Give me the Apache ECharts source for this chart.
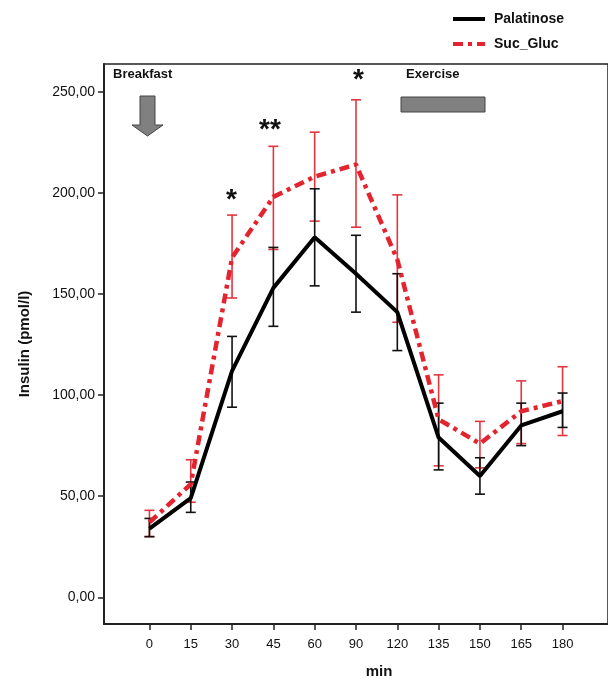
<!DOCTYPE html>
<html>
<head>
<meta charset="utf-8">
<script src="https://cdn.jsdelivr.net/npm/echarts@6/dist/echarts.min.js"></script>
<style>
html, body { margin: 0; padding: 0; background: #fff; }
#main { width: 608px; height: 684px; }
</style>
</head>
<body>
<div id="main"></div>
<script>
// time points (min), drawn at equal spacing
var times = ['0', '15', '30', '45', '60', '90', '120', '135', '150', '165', '180'];

// Palatinose: mean and error bar ends
var palatinose = [34, 49, 112, 153, 178, 160, 141, 79, 60, 85, 92];
var palLow = [30, 42, 94, 134, 154, 141, 122, 63, 51, 75, 84];
var palHigh = [39, 57, 129, 173, 202, 179, 160, 96, 69, 96, 101];

// Suc_Gluc: mean and error bar ends
var sucGluc = [37, 56, 168, 198, 208, 214, 167, 88, 76, 92, 97];
var sucLow = [30, 47, 148, 172, 186, 183, 136, 65, 64, 76, 80];
var sucHigh = [43, 68, 189, 223, 230, 246, 199, 110, 87, 107, 114];

var yTicks = [0, 50, 100, 150, 200, 250];

var font = 'Liberation Sans, Arial, sans-serif';
var redColor = '#e3242f';

function pairs(vals) {
	return vals.map(function (v, i) { return [i, v]; });
}
function bars(lo, hi) {
	return lo.map(function (v, i) { return [i, v, hi[i]]; });
}
function errorBar(color) {
	return function (params, api) {
		var lo = api.coord([api.value(0), api.value(1)]);
		var hi = api.coord([api.value(0), api.value(2)]);
		var w = 5;
		var st = { stroke: color, lineWidth: 1.6 };
		return {
			type: 'group',
			children: [
				{ type: 'line', shape: { x1: lo[0], y1: lo[1], x2: hi[0], y2: hi[1] }, style: st },
				{ type: 'line', shape: { x1: lo[0] - w, y1: lo[1], x2: lo[0] + w, y2: lo[1] }, style: st },
				{ type: 'line', shape: { x1: hi[0] - w, y1: hi[1], x2: hi[0] + w, y2: hi[1] }, style: st }
			]
		};
	};
}

var idx = times.map(function (t, i) { return i; });

var myChart = echarts.init(document.getElementById('main'));
var option = {
	animation: false,
	backgroundColor: '#fff',
	legend: {
		orient: 'vertical',
		left: 446,
		top: 7,
		itemWidth: 32,
		itemHeight: 14,
		itemGap: 11,
		itemStyle: { opacity: 0 },
		lineStyle: { width: 4 },
		textStyle: { fontFamily: font, fontWeight: 'bold', fontSize: 14, color: '#111', padding: [0, 0, 0, 4] },
		data: ['Palatinose', 'Suc_Gluc']
	},
	grid: {
		left: 104,
		top: 64,
		width: 511,
		height: 565,
		show: true,
		borderColor: '#222',
		borderWidth: 1.5
	},
	xAxis: {
		type: 'value',
		min: -1.1,
		max: 11.1,
		name: 'min',
		nameLocation: 'middle',
		nameGap: 40,
		nameTextStyle: { fontFamily: font, fontWeight: 'bold', fontSize: 15, color: '#111', padding: [0, 0, 0, 46] },
		axisLine: { onZero: false, lineStyle: { color: '#222', width: 2 } },
		axisTick: { show: true, length: 6, customValues: idx, lineStyle: { color: '#222', width: 1.5 } },
		axisLabel: {
			customValues: idx,
			margin: 14,
			fontFamily: font,
			fontSize: 13,
			color: '#111',
			formatter: function (v) { return times[Math.round(v)]; }
		},
		splitLine: { show: false }
	},
	yAxis: {
		type: 'value',
		min: -13.2,
		max: 263.7,
		name: 'Insulin (pmol/l)',
		nameLocation: 'middle',
		nameGap: 72,
		nameTextStyle: { fontFamily: font, fontWeight: 'bold', fontSize: 15, color: '#111' },
		axisLine: { onZero: false, lineStyle: { color: '#222', width: 2 } },
		axisTick: { show: true, length: 6, customValues: yTicks, lineStyle: { color: '#222', width: 1.5 } },
		axisLabel: {
			customValues: yTicks,
			margin: 9,
			fontFamily: font,
			fontSize: 14,
			color: '#111',
			formatter: function (v) { return v.toFixed(2).replace('.', ','); }
		},
		splitLine: { show: false }
	},
	graphic: [
		{ type: 'text', left: 113, top: 68, style: { text: 'Breakfast', font: 'bold 13px ' + font, fill: '#111' } },
		{ type: 'text', left: 406, top: 68, style: { text: 'Exercise', font: 'bold 13px ' + font, fill: '#111' } },
		{
			type: 'polygon',
			shape: { points: [[140, 96], [155, 96], [155, 125], [163, 125], [147.5, 136], [132, 125], [140, 125]] },
			style: { fill: '#808080', stroke: '#444', lineWidth: 1 }
		},
		{ type: 'rect', shape: { x: 401, y: 97, width: 84, height: 15 }, style: { fill: '#808080', stroke: '#444', lineWidth: 1 } },
		{ type: 'text', left: 226, top: 186, style: { text: '*', font: 'bold 28px ' + font, fill: '#111' } },
		{ type: 'text', left: 259, top: 116, style: { text: '**', font: 'bold 28px ' + font, fill: '#111' } },
		{ type: 'text', left: 353, top: 66, style: { text: '*', font: 'bold 28px ' + font, fill: '#111' } }
	],
	series: [
		{
			name: 'Suc_Gluc bars',
			type: 'custom',
			renderItem: errorBar('#e2363f'),
			data: bars(sucLow, sucHigh),
			z: 2
		},
		{
			name: 'Palatinose bars',
			type: 'custom',
			renderItem: errorBar('#111'),
			data: bars(palLow, palHigh),
			z: 3
		},
		{
			name: 'Palatinose',
			type: 'line',
			data: pairs(palatinose),
			symbol: 'none',
			itemStyle: { color: '#000' },
			lineStyle: { color: '#000', width: 4 },
			z: 4
		},
		{
			name: 'Suc_Gluc',
			type: 'line',
			data: pairs(sucGluc),
			symbol: 'none',
			itemStyle: { color: redColor },
			lineStyle: { color: redColor, width: 4.5, type: [10, 5, 4, 5] },
			z: 5
		}
	]
};
myChart.setOption(option);
window.onresize = myChart.resize;
</script>
</body>
</html>
